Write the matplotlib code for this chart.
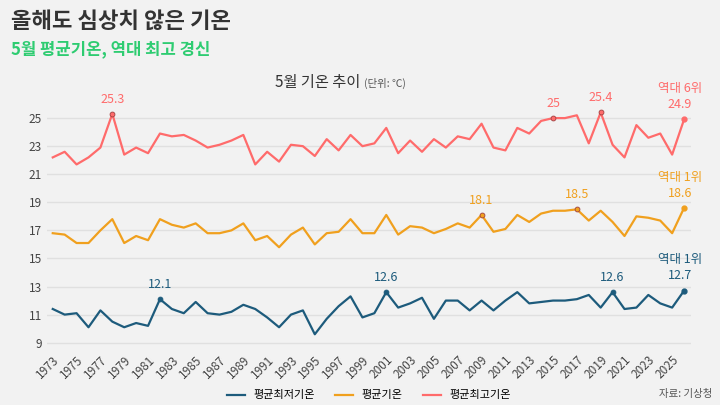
import matplotlib
matplotlib.use("Agg")
import matplotlib.pyplot as plt

plt.rcParams['font.family'] = ['Noto Sans CJK KR', 'DejaVu Sans']

years = list(range(1973, 2027))
tmax = [22.2, 22.6, 21.7, 22.2, 22.9, 25.3, 22.4, 22.9, 22.5, 23.9,
        23.7, 23.8, 23.4, 22.9, 23.1, 23.4, 23.8, 21.7, 22.6, 21.9,
        23.1, 23.0, 22.3, 23.5, 22.7, 23.8, 23.0, 23.2, 24.3, 22.5,
        23.4, 22.6, 23.5, 22.9, 23.7, 23.5, 24.6, 22.9, 22.7, 24.3,
        23.9, 24.8, 25.0, 25.0, 25.2, 23.2, 25.4, 23.1, 22.2, 24.5,
        23.6, 23.9, 22.4, 24.9]
tavg = [16.8, 16.7, 16.1, 16.1, 17.0, 17.8, 16.1, 16.6, 16.3, 17.8,
        17.4, 17.2, 17.5, 16.8, 16.8, 17.0, 17.5, 16.3, 16.6, 15.8,
        16.7, 17.2, 16.0, 16.8, 16.9, 17.8, 16.8, 16.8, 18.1, 16.7,
        17.3, 17.2, 16.8, 17.1, 17.5, 17.2, 18.1, 16.9, 17.1, 18.1,
        17.6, 18.2, 18.4, 18.4, 18.5, 17.7, 18.4, 17.6, 16.6, 18.0,
        17.9, 17.7, 16.8, 18.6]
tmin = [11.4, 11.0, 11.1, 10.1, 11.3, 10.5, 10.1, 10.4, 10.2, 12.1,
        11.4, 11.1, 11.9, 11.1, 11.0, 11.2, 11.7, 11.4, 10.8, 10.1,
        11.0, 11.3, 9.6, 10.7, 11.6, 12.3, 10.8, 11.1, 12.6, 11.5,
        11.8, 12.2, 10.7, 12.0, 12.0, 11.3, 12.0, 11.3, 12.0, 12.6,
        11.8, 11.9, 12.0, 12.0, 12.1, 12.4, 11.5, 12.6, 11.4, 11.5,
        12.4, 11.8, 11.5, 12.7]

max_marks = [1978, 2015, 2019]
avg_marks = [2009, 2017]
min_marks = [1982, 2001, 2020]
yticks = list(range(9, 26, 2))
xticks = list(range(1973, 2026, 2))

c_max = '#ff6b6b'
c_avg = '#f0a01e'
c_min = '#1d5b7c'
bg = '#f2f2f2'

fig = plt.figure(figsize=(7.2, 4.05), dpi=100, facecolor=bg)
ax = fig.add_axes([0.065, 0.14, 0.895, 0.61], facecolor=bg)

series = [(tmin, c_min, '평균최저기온', min_marks),
          (tavg, c_avg, '평균기온', avg_marks),
          (tmax, c_max, '평균최고기온', max_marks)]
for vals, col, lab, marks in series:
    ax.plot(years, vals, color=col, lw=1.6, label=lab)
    for yr in marks:
        v = vals[years.index(yr)]
        ax.plot(yr, v, 'o', ms=3.5, color=col, mec='#a04040' if col != c_min else col, mew=0.6)
        ax.annotate(f'{v:g}', (yr, v), xytext=(0, 6), textcoords='offset points',
                    ha='center', va='bottom', color=col, fontsize=9)
    v = vals[-1]
    ax.plot(years[-1], v, 'o', ms=3.5, color=col)
    rank = '역대 6위' if col == c_max else '역대 1위'
    ax.annotate(f'{rank}\n{v:g}', (years[-1], v), xytext=(-3, 6), textcoords='offset points',
                ha='center', va='bottom', color=col, fontsize=9, linespacing=1.3)

ax.set_ylim(8.6, 26.2)
ax.set_xlim(1972.5, 2026.6)
ax.set_yticks(yticks)
ax.set_xticks(xticks)
ax.set_xticklabels([str(x) for x in xticks], rotation=45, ha='right', rotation_mode='anchor')
ax.tick_params(length=0, labelsize=8.5, colors='#444444')
ax.grid(axis='y', color='#e0e0e0', lw=1)
for s in ax.spines.values():
    s.set_visible(False)

fig.text(0.015, 0.93, '올해도 심상치 않은 기온', fontsize=16, color='#333333', weight='bold')
fig.text(0.015, 0.865, '5월 평균기온, 역대 최고 경신', fontsize=12, color='#2ecc71', weight='bold')
fig.text(0.5, 0.785, '5월 기온 추이', fontsize=11, color='#333333', ha='right')
fig.text(0.505, 0.785, '(단위: ℃)', fontsize=7.5, color='#555555', ha='left')

ax.legend(loc='upper center', bbox_to_anchor=(0.5, -0.13), ncol=3, frameon=False,
          fontsize=8, handlelength=1.6, columnspacing=1.8)
fig.text(0.99, 0.02, '자료: 기상청', fontsize=7.5, color='#555555', ha='right')

fig.savefig('out.png', dpi=100, facecolor=bg)
